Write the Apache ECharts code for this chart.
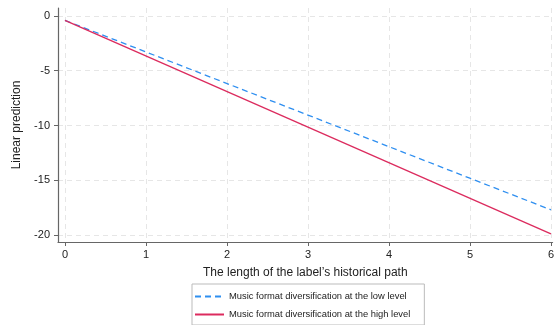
<!DOCTYPE html>
<html>
<head>
<meta charset="utf-8">
<script src="https://cdn.jsdelivr.net/npm/echarts@6/dist/echarts.min.js"></script>
<style>
  html, body { margin: 0; padding: 0; background: #fff; }
  #chart { width: 557px; height: 325px; }
</style>
</head>
<body>
<div id="chart"></div>
<script>
  // values (endpoints of each fitted line)
  var pathLength = [0, 6];
  var lowLevel = [-0.4, -17.7];
  var highLevel = [-0.4, -19.9];
  var xTicks = [0, 1, 2, 3, 4, 5, 6];
  var yTicks = [-20, -15, -10, -5, 0];
  var seriesNames = [
    'Music format diversification at the low level',
    'Music format diversification at the high level'
  ];

  function pairs(xs, ys) {
    return xs.map(function (x, i) { return [x, ys[i]]; });
  }

  var gridLine = { show: true, lineStyle: { color: '#e6e6e6', type: [5, 4], width: 1 } };
  var axisLine = { show: true, onZero: false, lineStyle: { color: '#666', width: 1.2 } };

  var chart = echarts.init(document.getElementById('chart'));
  chart.setOption({
    animation: false,
    backgroundColor: '#fff',
    textStyle: { fontFamily: 'Liberation Sans, Arial, sans-serif' },
    grid: { left: 58, right: 2, top: 8, bottom: 83 },
    xAxis: {
      type: 'value',
      min: -0.086,
      max: 6.02,
      name: 'The length of the label\u2019s historical path',
      nameLocation: 'middle',
      nameGap: 25,
      nameTextStyle: { color: '#222', fontSize: 12 },
      axisLine: axisLine,
      axisTick: { show: true, length: 4, customValues: xTicks, lineStyle: { color: '#666' } },
      axisLabel: { customValues: xTicks, color: '#222', fontSize: 11, margin: 7 },
      splitLine: gridLine
    },
    yAxis: {
      type: 'value',
      min: -20.64,
      max: 0.73,
      name: 'Linear prediction',
      nameLocation: 'middle',
      nameGap: 35,
      nameTextStyle: { color: '#222', fontSize: 12 },
      axisLine: axisLine,
      axisTick: { show: true, length: 4, customValues: yTicks, lineStyle: { color: '#666' } },
      axisLabel: { customValues: yTicks, color: '#222', fontSize: 11, margin: 8 },
      splitLine: gridLine
    },
    legend: {
      orient: 'vertical',
      left: 192,
      top: 284,
      width: 235,
      padding: [8, 14, 6, 2],
      itemGap: 9,
      itemWidth: 29,
      itemHeight: 8,
      borderColor: '#bbb',
      borderWidth: 1,
      itemStyle: { opacity: 0 },
      textStyle: { fontSize: 9.4, color: '#222' },
      data: seriesNames
    },
    series: [
      {
        name: seriesNames[0],
        type: 'line',
        symbol: 'none',
        data: pairs(pathLength, lowLevel),
        lineStyle: { color: '#2f8ff0', width: 1.3, type: [6, 4] },
        itemStyle: { color: '#2f8ff0' }
      },
      {
        name: seriesNames[1],
        type: 'line',
        symbol: 'none',
        data: pairs(pathLength, highLevel),
        lineStyle: { color: '#dc2b5e', width: 1.3 },
        itemStyle: { color: '#dc2b5e' }
      }
    ]
  });
</script>
</body>
</html>
